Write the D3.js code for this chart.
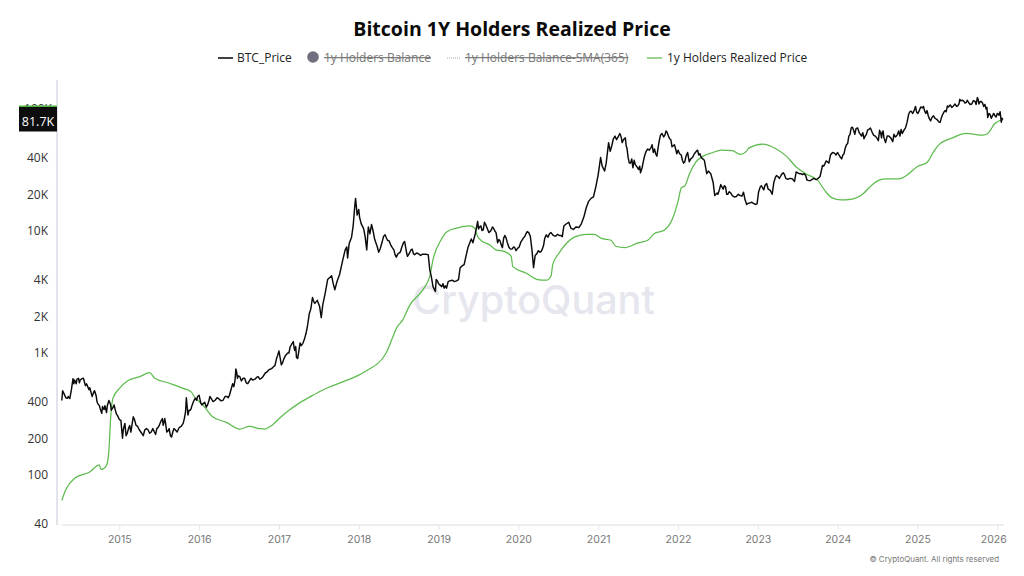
<!DOCTYPE html>
<html><head><meta charset="utf-8">
<script src="https://cdn.jsdelivr.net/npm/d3@7"></script>
<style>
html,body{margin:0;padding:0;background:#fff}
text{font-family:"Open Sans",sans-serif}
</style></head><body>
<svg id="c" width="1024" height="576"></svg>
<script>
const chartTitle="Bitcoin 1Y Holders Realized Price";
const legendNames=["BTC_Price","1y Holders Balance","1y Holders Balance-SMA(365)","1y Holders Realized Price"];
const yTicks=[40,100,200,400,1000,2000,4000,10000,20000,40000];
const xTicks=[2015,2016,2017,2018,2019,2020,2021,2022,2023,2024,2025,2026];
const lastValue=81700;

const btcYears=[2014.28,2014.29,2014.31,2014.33,2014.36,2014.38,2014.40,2014.42,2014.44,2014.46,2014.49,2014.51,2014.53,2014.56,2014.59,2014.62,2014.65,2014.68,2014.71,2014.73,2014.75,2014.78,2014.80,2014.82,2014.84,2014.87,2014.89,2014.92,2014.95,2014.98,2015.00,2015.02,2015.04,2015.07,2015.10,2015.13,2015.16,2015.19,2015.23,2015.28,2015.32,2015.36,2015.40,2015.44,2015.47,2015.50,2015.54,2015.56,2015.58,2015.61,2015.64,2015.67,2015.70,2015.75,2015.80,2015.83,2015.84,2015.86,2015.89,2015.91,2015.95,2015.98,2016.02,2016.05,2016.09,2016.12,2016.15,2016.20,2016.25,2016.30,2016.35,2016.38,2016.42,2016.45,2016.47,2016.49,2016.51,2016.55,2016.59,2016.63,2016.67,2016.72,2016.76,2016.80,2016.85,2016.90,2016.93,2016.97,2017.00,2017.01,2017.03,2017.06,2017.11,2017.14,2017.18,2017.20,2017.22,2017.25,2017.28,2017.32,2017.34,2017.36,2017.38,2017.40,2017.42,2017.44,2017.45,2017.48,2017.51,2017.53,2017.55,2017.58,2017.61,2017.66,2017.68,2017.70,2017.73,2017.76,2017.80,2017.83,2017.85,2017.86,2017.88,2017.91,2017.93,2017.95,2017.96,2017.98,2018.00,2018.01,2018.03,2018.06,2018.08,2018.10,2018.12,2018.14,2018.16,2018.18,2018.20,2018.23,2018.25,2018.29,2018.33,2018.36,2018.40,2018.44,2018.47,2018.52,2018.56,2018.59,2018.61,2018.64,2018.67,2018.70,2018.75,2018.80,2018.87,2018.89,2018.91,2018.93,2018.96,2018.97,2019.00,2019.04,2019.07,2019.10,2019.14,2019.20,2019.25,2019.27,2019.30,2019.32,2019.35,2019.37,2019.41,2019.43,2019.46,2019.49,2019.50,2019.53,2019.56,2019.59,2019.63,2019.66,2019.69,2019.72,2019.74,2019.77,2019.80,2019.83,2019.86,2019.90,2019.94,2019.97,2020.01,2020.05,2020.08,2020.11,2020.15,2020.17,2020.19,2020.21,2020.23,2020.27,2020.30,2020.33,2020.35,2020.39,2020.43,2020.47,2020.51,2020.55,2020.57,2020.59,2020.63,2020.66,2020.69,2020.72,2020.76,2020.79,2020.82,2020.85,2020.88,2020.91,2020.94,2020.97,2021.00,2021.02,2021.03,2021.05,2021.08,2021.10,2021.13,2021.15,2021.19,2021.23,2021.27,2021.29,2021.31,2021.34,2021.36,2021.39,2021.42,2021.45,2021.48,2021.53,2021.55,2021.58,2021.62,2021.66,2021.69,2021.72,2021.75,2021.78,2021.82,2021.85,2021.88,2021.91,2021.94,2021.97,2022.00,2022.04,2022.07,2022.10,2022.14,2022.18,2022.23,2022.26,2022.29,2022.33,2022.36,2022.38,2022.41,2022.44,2022.46,2022.49,2022.52,2022.55,2022.58,2022.61,2022.64,2022.68,2022.73,2022.78,2022.82,2022.84,2022.86,2022.90,2022.95,2022.99,2023.03,2023.06,2023.09,2023.13,2023.18,2023.20,2023.22,2023.25,2023.29,2023.32,2023.35,2023.40,2023.46,2023.48,2023.52,2023.56,2023.60,2023.63,2023.68,2023.73,2023.78,2023.81,2023.84,2023.87,2023.91,2023.96,2024.00,2024.05,2024.08,2024.11,2024.14,2024.17,2024.20,2024.23,2024.27,2024.30,2024.33,2024.36,2024.39,2024.43,2024.47,2024.51,2024.54,2024.56,2024.58,2024.60,2024.64,2024.69,2024.72,2024.75,2024.78,2024.81,2024.85,2024.87,2024.89,2024.92,2024.96,2024.99,2025.02,2025.06,2025.09,2025.12,2025.15,2025.18,2025.22,2025.27,2025.30,2025.33,2025.36,2025.39,2025.41,2025.45,2025.49,2025.52,2025.54,2025.58,2025.61,2025.64,2025.68,2025.72,2025.75,2025.77,2025.80,2025.83,2025.86,2025.88,2025.91,2025.94,2025.97,2026.00,2026.02,2026.05,2026.07,2026.08];
const btcValues=[408,490,460,430,440,423,500,616,600,559,620,600,616,590,559,500,465,480,447,385,370,320,350,370,325,408,380,356,340,305,285,280,200,265,220,255,260,285,250,220,235,235,225,225,240,255,290,270,265,230,210,225,235,245,265,330,430,310,340,370,425,440,390,385,360,400,425,410,420,410,440,450,560,600,700,650,640,620,570,590,600,630,610,640,700,740,770,900,1040,950,800,890,1000,1120,1240,1050,920,1040,1150,1300,1450,1700,2100,2300,2850,2600,2550,2700,2400,1950,2500,3100,4000,4300,3700,3300,3900,4400,5800,7000,7400,6000,7900,8900,11000,16000,18500,13500,15000,13000,11500,10500,9000,7000,10800,9500,11300,10000,8500,7500,6700,8000,9300,8400,7700,7000,6100,6700,8000,7200,6200,6700,7100,6400,6500,6450,6400,4800,4200,3500,3200,4000,3700,3500,3400,3400,3900,3850,4000,5000,5200,5300,6500,7400,8600,8000,9500,12000,10400,11000,10200,11300,9700,10200,10500,9700,8000,8300,7300,9200,8100,7100,7400,6900,7400,8500,9000,9900,9000,7000,5000,6300,6500,6700,7100,8700,9300,9500,9300,9100,9200,9000,11000,11300,11800,10500,10300,10800,10700,11500,13000,15500,17500,18500,19000,23000,29000,36000,40000,34000,31000,36000,53000,45000,57000,56000,63000,58000,55000,58000,48000,36000,39000,38000,34000,30000,33000,41000,47000,48000,44000,43000,48000,61000,59000,66000,60000,56000,50000,47000,46000,42000,36000,41000,37000,40000,45000,42000,40000,38000,29500,31000,29500,25000,19500,20500,22000,23000,23500,20000,21000,19500,19200,19500,20800,18000,16500,17000,16800,16700,23000,22500,23700,22000,20000,25000,27500,28000,28500,30000,27000,27000,25500,30500,29500,29000,28500,26000,26500,26300,28000,34500,35500,37000,42000,43500,44000,39000,43000,51000,60000,70000,67000,69000,64000,60000,57000,62000,68000,65000,60000,55000,63000,65000,58000,53000,60000,54000,59000,62000,60000,63000,70000,78000,91000,96000,98000,94000,96000,102000,96000,97000,83000,85000,84000,78000,85000,94000,95000,104000,108000,106000,105000,110000,117000,116000,113000,113000,110000,116000,124000,110000,115000,105000,100000,85000,90000,88000,88000,92000,89000,78000,81700];

// further readings between the points above
const btcDetail=[[2014.35,425],[2014.39,460],[2014.43,560],[2014.47,610],[2014.50,570],[2014.55,620],[2014.575,540],[2014.63,520],[2014.66,440],[2014.69,490],[2014.72,400],[2014.76,350],[2014.79,365],[2014.81,345],[2014.85,370],[2014.90,340],[2014.935,375],[2014.965,315],[2015.05,235],[2015.085,210],[2015.115,240],[2015.145,225],[2015.175,300],[2015.21,255],[2015.25,235],[2015.30,210],[2015.34,240],[2015.38,220],[2015.42,240],[2015.455,215],[2015.485,245],[2015.52,275],[2015.55,255],[2015.57,290],[2015.595,225],[2015.625,240],[2015.655,205],[2015.685,240],[2015.725,225],[2015.775,250],[2015.815,290],[2015.875,340],[2015.90,350],[2015.93,400],[2015.97,410],[2016.00,450],[2016.035,375],[2016.07,395],[2016.105,375],[2016.135,440],[2016.175,400],[2016.225,430],[2016.275,405],[2016.325,440],[2016.365,430],[2016.435,530],[2016.46,740],[2016.48,620],[2016.53,590],[2016.57,620],[2016.61,560],[2016.65,620],[2016.70,610],[2016.74,640],[2016.78,620],[2016.825,680],[2016.875,730],[2016.915,750],[2016.95,790],[2016.985,960],[2017.045,830],[2017.085,960],[2017.125,1000],[2017.16,1180],[2017.19,1100],[2017.21,1130],[2017.235,900],[2017.265,1210],[2017.30,1200],[2017.33,1380],
[2018.27,7200],[2018.31,9000],[2018.345,8800],[2018.38,8300],[2018.42,7300],[2018.455,6400],[2018.49,6500],[2018.54,7400],[2018.575,8200],[2018.60,6600],[2018.625,6400],[2018.655,7000],[2018.685,6500],[2018.725,6600],[2018.775,6300],[2018.835,6450],[2018.985,3900],[2019.02,3600],[2019.055,3700],[2019.085,3550],[2019.12,3850],[2019.17,3950],[2019.225,3900],
[2019.52,10900],[2019.545,10100],[2019.575,11800],[2019.61,10500],[2019.645,9900],[2019.675,10800],[2019.705,10000],[2019.755,8500],[2019.785,7700],[2019.815,8700],[2019.845,8800],[2019.88,7400],[2019.92,7100],[2019.955,7300],[2019.99,7200],[2020.03,8100],[2020.065,8800],[2020.095,9500],[2020.13,9700],[2020.25,6900],[2020.285,6800],[2020.315,7600],[2020.37,8900],[2020.41,9700],[2020.45,9100],[2020.49,9400],[2020.53,9200],
[2021.17,50000],[2021.21,60000],[2021.25,59000],[2021.28,61000],[2021.30,53000],[2021.325,57000],[2021.35,50000],[2021.375,40000],[2021.405,36000],[2021.435,33000],[2021.465,35000],[2021.505,32000],[2021.52,34000],[2021.565,37000],[2021.60,45000],[2021.64,46000],[2021.675,51000],[2021.705,47000],[2021.735,41000],[2021.765,55000],[2021.80,63000],[2021.835,61000],[2021.865,64000],[2021.895,57000],[2021.925,49000],[2021.955,51000],[2021.985,43000],[2022.02,43000],[2022.055,38000],[2022.085,37000],[2022.12,44000],[2022.16,39000],[2022.205,43000],[2022.245,46000],[2022.275,43000],[2022.31,39000],
[2022.50,20000],[2022.535,24000],[2022.565,22000],[2022.595,23000],[2022.625,20000],[2022.66,20500],[2022.705,19000],[2022.755,20000],[2022.80,19300],[2022.875,16800],[2022.925,17200],[2022.97,16500],[2023.01,21000],[2023.045,23500],[2023.075,21800],[2023.11,24500],[2023.155,21500],[2023.235,28500],[2023.27,27000],[2023.305,29500],[2023.335,28800],[2023.375,26500],[2023.43,26800],[2023.50,30000],[2023.54,29500],[2023.58,29500],[2023.615,26200],[2023.655,25800],[2023.705,27000],[2023.755,27000],[2023.825,34000],[2023.855,37500],[2023.89,36000],[2023.935,44000],[2023.98,42000],[2024.025,41000],[2024.065,42000],[2024.095,48000],[2024.125,52000],[2024.155,62000],[2024.185,71000],[2024.215,62000],[2024.25,70000],[2024.285,62000],[2024.315,64000],[2024.345,60000],[2024.375,67000],[2024.41,70000],[2024.45,61000],[2024.49,58000],[2024.525,67000],[2024.55,58000],[2024.57,66000],[2024.62,60000],[2024.665,58000],[2024.705,62000],[2024.735,60000],[2024.765,66000],[2024.795,68000],[2024.83,67000],[2024.905,95000],[2024.94,92000],[2024.975,105000],[2025.005,92000],[2025.04,104000],[2025.075,105000],[2025.105,92000],[2025.135,88000],[2025.165,80000],[2025.20,88000],[2025.245,82000],[2025.285,78000],[2025.315,90000],[2025.345,97000],[2025.375,106000],[2025.43,103000],[2025.47,110000],[2025.505,106000],[2025.53,120000],[2025.56,118000],[2025.595,112000],[2025.625,118000],[2025.66,109000],[2025.70,117000],[2025.735,109000],[2025.76,120000],[2025.785,115000],[2025.815,112000],[2025.845,109000],[2025.87,103000],[2025.895,92000],[2025.925,84000],[2025.955,92000],[2025.985,86000],[2026.01,91000],[2026.035,95000],[2026.06,84000]];

const greenYears=[2014.28,2014.33,2014.44,2014.63,2014.75,2014.77,2014.84,2014.87,2014.89,2014.92,2015.00,2015.11,2015.26,2015.38,2015.44,2015.61,2015.80,2015.90,2015.95,2016.05,2016.17,2016.34,2016.51,2016.63,2016.76,2016.82,2016.91,2017.01,2017.13,2017.26,2017.41,2017.57,2017.80,2018.07,2018.34,2018.42,2018.47,2018.55,2018.64,2018.80,2018.89,2018.93,2019.03,2019.11,2019.24,2019.39,2019.45,2019.49,2019.55,2019.64,2019.72,2019.82,2019.91,2019.93,2020.10,2020.24,2020.35,2020.41,2020.43,2020.51,2020.60,2020.70,2020.85,2020.95,2021.04,2021.16,2021.22,2021.33,2021.50,2021.62,2021.70,2021.83,2021.93,2022.00,2022.04,2022.09,2022.14,2022.22,2022.33,2022.43,2022.54,2022.68,2022.78,2022.85,2022.89,2023.06,2023.22,2023.35,2023.48,2023.60,2023.75,2023.85,2023.93,2024.04,2024.16,2024.33,2024.39,2024.51,2024.60,2024.77,2024.87,2025.00,2025.12,2025.21,2025.27,2025.44,2025.61,2025.82,2025.88,2025.97,2026.07];
const greenValues=[62,76,94,106,121,111,120,160,283,425,510,595,640,690,625,570,513,480,430,373,300,270,238,250,240,238,255,293,341,390,445,505,580,700,990,1320,1590,1860,2470,3280,4260,5800,8440,9900,10600,11000,10600,9000,8200,7700,7000,6800,6200,5100,4500,4000,3950,4300,5300,6600,7900,8900,9400,9400,8700,8400,7500,7300,8000,8400,9500,10200,12600,17500,22500,23700,29000,36500,41500,43800,46000,45500,42500,44500,48000,51500,47500,41500,33500,29500,26000,21000,18700,18000,18200,20500,22500,26000,26800,26800,28800,33800,36500,45500,51000,58000,63000,61000,63000,76000,81700];

const svg=d3.select("#c");
const x=d3.scaleLinear().domain([2015,2026]).range([119.3,997.3]);
const y=d3.scaleLog().domain([100,100000]).range([475,109]);
const kfmt=v=>v>=1000?(v/1000)+"K":String(v);

svg.append("text").attr("x",512).attr("y",36).attr("text-anchor","middle")
  .attr("font-size",19.5).attr("font-weight",700).attr("fill","#0a0a0a").text(chartTitle);

svg.append("text").attr("x",533.5).attr("y",314).attr("text-anchor","middle")
  .attr("font-size",39.5).attr("font-weight",500).attr("fill","#e6e6ee").style("font-family","Inter").text("CryptoQuant");

svg.append("line").attr("x1",57).attr("x2",57).attr("y1",80).attr("y2",525).attr("stroke","#dcdce6").attr("stroke-width",1.6);
const ax=svg.append("g").attr("transform","translate(0,525)")
  .call(d3.axisBottom(x).tickValues(xTicks).tickFormat(d3.format("d")).tickSize(5).tickPadding(6));
ax.select(".domain").remove();
ax.append("line").attr("x1",62).attr("x2",1004).attr("y1",0).attr("y2",0).attr("stroke","#dcdce6").attr("stroke-width",1.2);
ax.selectAll(".tick line").attr("stroke","#e6e6ee");
ax.selectAll(".tick text").attr("font-size",10.5).attr("fill","#777").style("font-family","Inter");
ax.selectAll(".tick").filter(d=>d===2026).select("text").attr("dx",-4);

const ay=svg.append("g").attr("transform","translate(48,0)")
  .call(d3.axisLeft(y).tickValues(yTicks).tickFormat(kfmt).tickSize(0).tickPadding(0));
ay.select(".domain").remove();
ay.selectAll(".tick text").attr("font-size",12).attr("fill","#333");

const line=d3.line().x(d=>x(d[0])).y(d=>y(d[1]));
svg.append("path").attr("d",line.curve(d3.curveMonotoneX)(d3.zip(greenYears,greenValues)))
  .attr("fill","none").attr("stroke","#5dbb4e").attr("stroke-width",1.25);
const btcAll=d3.zip(btcYears,btcValues).concat(btcDetail).sort((a,b)=>a[0]-b[0]);
svg.append("path").attr("d",line.curve(d3.curveLinear)(btcAll))
  .attr("fill","none").attr("stroke","#0a0a0a").attr("stroke-width",1.45).attr("stroke-linejoin","round");

svg.append("text").attr("x",38).attr("y",y(100000)+4).attr("text-anchor","middle").attr("font-size",12).attr("fill","#333").text("100K");
svg.append("rect").attr("x",19).attr("y",105.5).attr("width",38).attr("height",2).attr("fill","#4cb43c");
svg.append("rect").attr("x",19).attr("y",107).attr("width",38).attr("height",24.5).attr("fill","#0d0d0d");
svg.append("text").attr("x",38).attr("y",125.5).attr("text-anchor","middle").attr("font-size",12.5).attr("fill","#fff").text(d3.format(".1f")(lastValue/1000)+"K");

const lg=svg.append("g").attr("font-size",12);
lg.append("line").attr("x1",218).attr("x2",233).attr("y1",58).attr("y2",58).attr("stroke","#111").attr("stroke-width",1.6);
lg.append("text").attr("x",237).attr("y",62).attr("fill","#222").text(legendNames[0]);
lg.append("circle").attr("cx",313).attr("cy",57).attr("r",5.8).attr("fill","#6f6f80");
lg.append("text").attr("x",324).attr("y",62).attr("fill","#777").attr("text-decoration","line-through").text(legendNames[1]);
lg.append("line").attr("x1",447).attr("x2",461).attr("y1",58).attr("y2",58).attr("stroke","#aaa").attr("stroke-dasharray","1 1");
lg.append("text").attr("x",465).attr("y",62).attr("fill","#777").attr("text-decoration","line-through").text(legendNames[2]);
lg.append("line").attr("x1",647).attr("x2",662).attr("y1",58).attr("y2",58).attr("stroke","#6cc25c").attr("stroke-width",1.4);
lg.append("text").attr("x",667).attr("y",62).attr("fill","#222").text(legendNames[3]);

svg.append("text").attr("x",999).attr("y",562).attr("text-anchor","end").attr("font-size",7.9).attr("fill","#777").style("font-family","Inter").text("© CryptoQuant. All rights reserved");
</script>
</body></html>
